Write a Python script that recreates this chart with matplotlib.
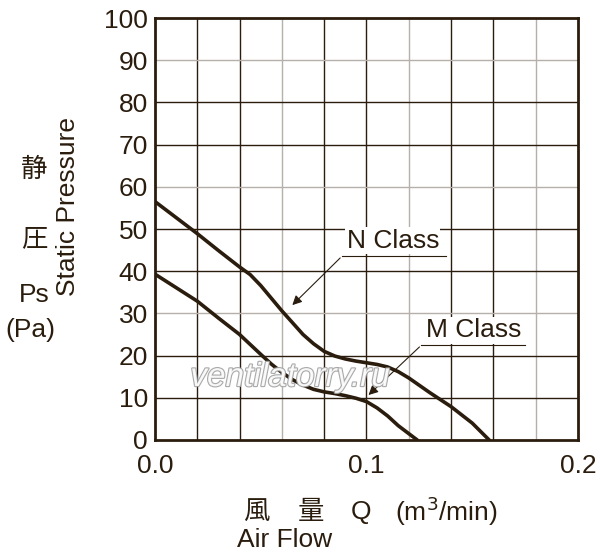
import numpy as np
import matplotlib
matplotlib.use('Agg')
import matplotlib.pyplot as plt
import matplotlib.patheffects as pe

# curves
n_q = [0.0, 0.01, 0.02, 0.03, 0.04, 0.045, 0.05, 0.055, 0.06, 0.065, 0.07, 0.075, 0.08,
       0.085, 0.09, 0.095, 0.10, 0.105, 0.11, 0.115, 0.12, 0.13, 0.14, 0.15, 0.158]
n_ps = [56.5, 52.7, 48.9, 44.9, 41.0, 39.2, 36.6, 33.6, 30.6, 27.8, 25.0, 22.8, 21.0,
        19.9, 19.2, 18.7, 18.3, 17.9, 17.3, 16.2, 14.7, 11.2, 7.9, 4.0, 0.0]

m_q = [0.0, 0.01, 0.02, 0.03, 0.04, 0.05, 0.055, 0.06, 0.065, 0.07, 0.075, 0.08, 0.085,
       0.09, 0.095, 0.10, 0.105, 0.11, 0.115, 0.12, 0.124]
m_ps = [39.3, 36.1, 32.9, 28.9, 25.0, 20.3, 18.0, 16.0, 14.3, 13.0, 12.0, 11.4, 11.0,
        10.5, 9.9, 9.1, 7.6, 5.7, 3.4, 1.5, 0.0]

x_ticks = [0.0, 0.1, 0.2]
x_tick_labels = ['0.0', '0.1', '0.2']
y_ticks = list(range(0, 101, 10))

ink = '#2b1d0e'
gray = '#b5b0aa'
font = ['Liberation Sans', 'Noto Sans CJK JP', 'DejaVu Sans']
plt.rcParams['font.family'] = font

fig = plt.figure(figsize=(6.0, 5.58), dpi=100)
ax = fig.add_axes([0.2583, 0.2115, 0.705, 0.7562])
ax.set_xlim(0, 0.2)
ax.set_ylim(0, 100)

# grid, every third line lighter
for i, gx in enumerate(np.arange(0.02, 0.2, 0.02)):
    c = gray if (i + 1) % 3 == 0 else ink
    ax.axvline(gx, color=c, lw=1.0, zorder=1)
for i, gy in enumerate(range(10, 100, 10)):
    c = gray if (i + 1) % 3 == 0 else ink
    ax.axhline(gy, color=c, lw=1.0, zorder=1)

ax.plot(n_q, n_ps, color=ink, lw=2.6, solid_capstyle='round', solid_joinstyle='round', zorder=3)
ax.plot(m_q, m_ps, color=ink, lw=2.6, solid_capstyle='round', solid_joinstyle='round', zorder=3)

# labels with leader lines
ax.text(0.1125, 47.2, 'N Class', fontsize=19, color=ink, ha='center', va='center',
        bbox=dict(facecolor='white', edgecolor='none', pad=1), zorder=4)
ax.plot([0.0885, 0.1375], [43.6, 43.6], color=ink, lw=0.8, zorder=4)
ax.annotate('', xy=(0.064, 31.5), xytext=(0.0885, 43.6),
            arrowprops=dict(arrowstyle='-|>', color=ink, lw=0.8, mutation_scale=14), zorder=4)

ax.text(0.1505, 26.0, 'M Class', fontsize=19, color=ink, ha='center', va='center',
        bbox=dict(facecolor='white', edgecolor='none', pad=1), zorder=4)
ax.plot([0.126, 0.175], [22.5, 22.5], color=ink, lw=0.8, zorder=4)
ax.annotate('', xy=(0.100, 10.2), xytext=(0.126, 22.5),
            arrowprops=dict(arrowstyle='-|>', color=ink, lw=0.8, mutation_scale=14), zorder=4)

# watermark
ax.text(0.064, 14.8, 'ventilatorry.ru', fontsize=24, style='italic', color='white',
        ha='center', va='center', zorder=5, alpha=0.9,
        path_effects=[pe.withStroke(linewidth=1.6, foreground='#a0a0a0')])

ax.set_xticks(x_ticks)
ax.set_xticklabels(x_tick_labels)
ax.set_yticks(y_ticks)
ax.tick_params(length=0, labelsize=19, colors=ink)
ax.tick_params(axis='x', pad=10)
ax.tick_params(axis='y', pad=5)
for s in ax.spines.values():
    s.set_color(ink)
    s.set_linewidth(2.0)

fig.text(0.057, 0.695, '静', fontsize=19, color=ink, ha='center', va='center')
fig.text(0.057, 0.572, '圧', fontsize=19, color=ink, ha='center', va='center')
fig.text(0.057, 0.471, 'Ps', fontsize=19, color=ink, ha='center', va='center')
fig.text(0.050, 0.408, '(Pa)', fontsize=19, color=ink, ha='center', va='center')
fig.text(0.113, 0.63, 'Static Pressure', fontsize=19, color=ink, ha='center', va='center',
         rotation=90)

fig.text(0.427, 0.083, '風', fontsize=19, color=ink, ha='center', va='center')
fig.text(0.518, 0.083, '量', fontsize=19, color=ink, ha='center', va='center')
fig.text(0.602, 0.083, 'Q', fontsize=19, color=ink, ha='center', va='center')
fig.text(0.743, 0.083, '(m$^3$/min)', fontsize=19, color=ink, ha='center', va='center')
fig.text(0.395, 0.033, 'Air Flow', fontsize=19, color=ink, ha='left', va='center')

fig.savefig('out.png', dpi=100, facecolor='white')
